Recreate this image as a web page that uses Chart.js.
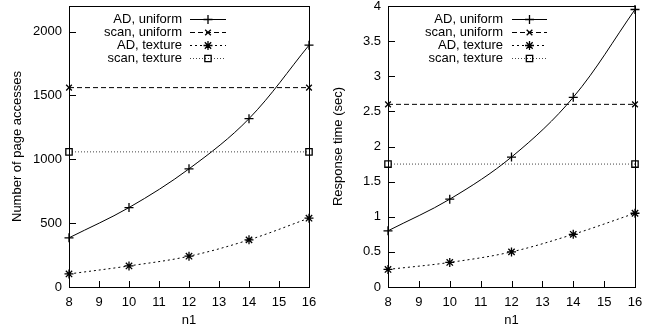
<!DOCTYPE html>
<html>
<head>
<meta charset="utf-8">
<script src="https://cdn.jsdelivr.net/npm/chart.js@4/dist/chart.umd.min.js"></script>
<style>
  body { margin: 0; background: #fff; }
  #wrap { position: relative; width: 655px; height: 328px; }
  .box { position: absolute; top: 0; height: 328px; }
</style>
</head>
<body>
<div id="wrap">
  <div class="box" style="left:0;width:327px"><canvas id="left"></canvas></div>
  <div class="box" style="left:327px;width:328px"><canvas id="right"></canvas></div>
</div>
<script>
// x values
var n1 = [8, 10, 12, 14, 16];
var n1Ticks = [8, 9, 10, 11, 12, 13, 14, 15, 16];
var seriesNames = ['AD, uniform', 'scan, uniform', 'AD, texture', 'scan, texture'];

// page accesses
var pagesADUniform = [385, 622, 925, 1318, 1893];
var pagesScanUniform = 1561;
var pagesADTexture = [102, 165, 241, 369, 539];
var pagesScanTexture = 1058;
var pagesTicks = [0, 500, 1000, 1500, 2000];

// response time (sec)
var timeADUniform = [0.8, 1.25, 1.85, 2.7, 3.95];
var timeScanUniform = 2.6;
var timeADTexture = [0.25, 0.35, 0.5, 0.75, 1.05];
var timeScanTexture = 1.75;
var timeTicks = [0, 0.5, 1, 1.5, 2, 2.5, 3, 3.5, 4];

var FONT = 'Liberation Sans, Arial, Helvetica, sans-serif';
Chart.defaults.font.family = FONT;
Chart.defaults.font.size = 13;
Chart.defaults.color = '#000';

function pts(xs, ys) {
    return xs.map(function(x, i) { return {x: x, y: ys[i]}; });
}
function flat(v) {
    return [{x: n1[0], y: v}, {x: n1[n1.length - 1], y: v}];
}

function makeDatasets(adU, scanU, adT, scanT) {
    var common = {borderColor: '#000', borderWidth: 1, pointBorderColor: '#000', pointBorderWidth: 1.3,
                  pointBackgroundColor: 'rgba(0,0,0,0)', clip: false};
    return [
        Object.assign({label: seriesNames[0], data: pts(n1, adU), tension: 0.35, pointStyle: 'cross', pointRadius: 4.5}, common),
        Object.assign({label: seriesNames[1], data: flat(scanU), borderDash: [5, 3], pointStyle: 'crossRot', pointRadius: 4}, common),
        Object.assign({label: seriesNames[2], data: pts(n1, adT), borderDash: [2, 3], tension: 0.35, pointStyle: 'star', pointRadius: 4.5}, common),
        Object.assign({label: seriesNames[3], data: flat(scanT), borderDash: [1, 2], pointStyle: 'rect', pointRadius: 4.5}, common, {borderColor: '#444'})
    ];
}

// frame, inward ticks and gnuplot-like legend
var gnuplotLook = {
    id: 'gnuplotLook',
    afterDraw: function(chart, args, opts) {
        var ctx = chart.ctx, a = chart.chartArea;
        var xs = chart.scales.x, ys = chart.scales.y;
        ctx.save();
        ctx.strokeStyle = '#000';
        ctx.lineWidth = 1;
        ctx.setLineDash([]);
        ctx.strokeRect(Math.round(a.left) + 0.5, Math.round(a.top) + 0.5,
            Math.round(a.right - a.left), Math.round(a.bottom - a.top));
        ctx.beginPath();
        ys.ticks.forEach(function(t) {
            var y = Math.round(ys.getPixelForValue(t.value)) + 0.5;
            ctx.moveTo(a.left, y); ctx.lineTo(a.left + 7, y);
        });
        xs.ticks.forEach(function(t) {
            var x = Math.round(xs.getPixelForValue(t.value)) + 0.5;
            ctx.moveTo(x, a.bottom); ctx.lineTo(x, a.bottom - 6);
        });
        ctx.stroke();

        // legend
        ctx.font = '13px ' + FONT;
        ctx.textAlign = 'right';
        ctx.textBaseline = 'middle';
        chart.data.datasets.forEach(function(ds, i) {
            var y = a.top + 13 + i * 13;
            ctx.fillStyle = '#000';
            ctx.fillText(ds.label, a.left + opts.textRight, y);
            var x1 = a.left + opts.lineLeft, x2 = a.left + opts.lineRight;
            ctx.strokeStyle = ds.borderColor;
            ctx.setLineDash(ds.borderDash || []);
            ctx.beginPath();
            ctx.moveTo(x1, Math.round(y) + 0.5); ctx.lineTo(x2, Math.round(y) + 0.5);
            ctx.stroke();
            ctx.setLineDash([]);
            ctx.strokeStyle = '#000';
            ctx.lineWidth = 1.3;
            ctx.fillStyle = 'rgba(0,0,0,0)';
            Chart.helpers.drawPoint(ctx, {pointStyle: ds.pointStyle, radius: ds.pointRadius, rotation: 0, borderWidth: 1.3},
                (x1 + x2) / 2, Math.round(y) + 0.5);
            ctx.lineWidth = 1;
        });
        ctx.restore();
    }
};

function makeChart(id, datasets, yMax, yTicks, yTitle, yWidth, padRight, titlePad, legendPos) {
    return new Chart(document.getElementById(id), {
        type: 'line',
        data: {datasets: datasets},
        plugins: [gnuplotLook],
        options: {
            responsive: true,
            maintainAspectRatio: false,
            animation: false,
            layout: {padding: {top: 6, right: padRight, left: 0, bottom: 0}},
            plugins: {
                legend: {display: false},
                tooltip: {enabled: false},
                gnuplotLook: legendPos
            },
            scales: {
                x: {
                    type: 'linear', min: 8, max: 16,
                    afterBuildTicks: function(s) { s.ticks = n1Ticks.map(function(v) { return {value: v}; }); },
                    afterFit: function(s) {
                        s.height = 41;
                        s.paddingLeft = 0; s.paddingRight = 0;
                    },
                    grid: {display: false, drawTicks: false},
                    border: {display: false},
                    ticks: {padding: 8, maxRotation: 0, autoSkip: false},
                    title: {display: true, text: 'n1', padding: {top: 2, bottom: 0}}
                },
                y: {
                    min: 0, max: yMax,
                    afterBuildTicks: function(s) { s.ticks = yTicks.map(function(v) { return {value: v}; }); },
                    afterFit: function(s) {
                        s.width = yWidth;
                        s.paddingTop = 0; s.paddingBottom = 0;
                    },
                    grid: {display: false, drawTicks: false},
                    border: {display: false},
                    ticks: {padding: 7, autoSkip: false, callback: function(v) { return String(v); }},
                    title: {display: true, text: yTitle, padding: {top: titlePad, bottom: 0}}
                }
            }
        }
    });
}

makeChart('left',
    makeDatasets(pagesADUniform, pagesScanUniform, pagesADTexture, pagesScanTexture),
    2200, pagesTicks, 'Number of page accesses', 69, 18, 10,
    {textRight: 113, lineLeft: 121, lineRight: 157});

makeChart('right',
    makeDatasets(timeADUniform, timeScanUniform, timeADTexture, timeScanTexture),
    4, timeTicks, 'Response time (sec)', 61, 20, 4,
    {textRight: 115, lineLeft: 124, lineRight: 159});
</script>
</body>
</html>
